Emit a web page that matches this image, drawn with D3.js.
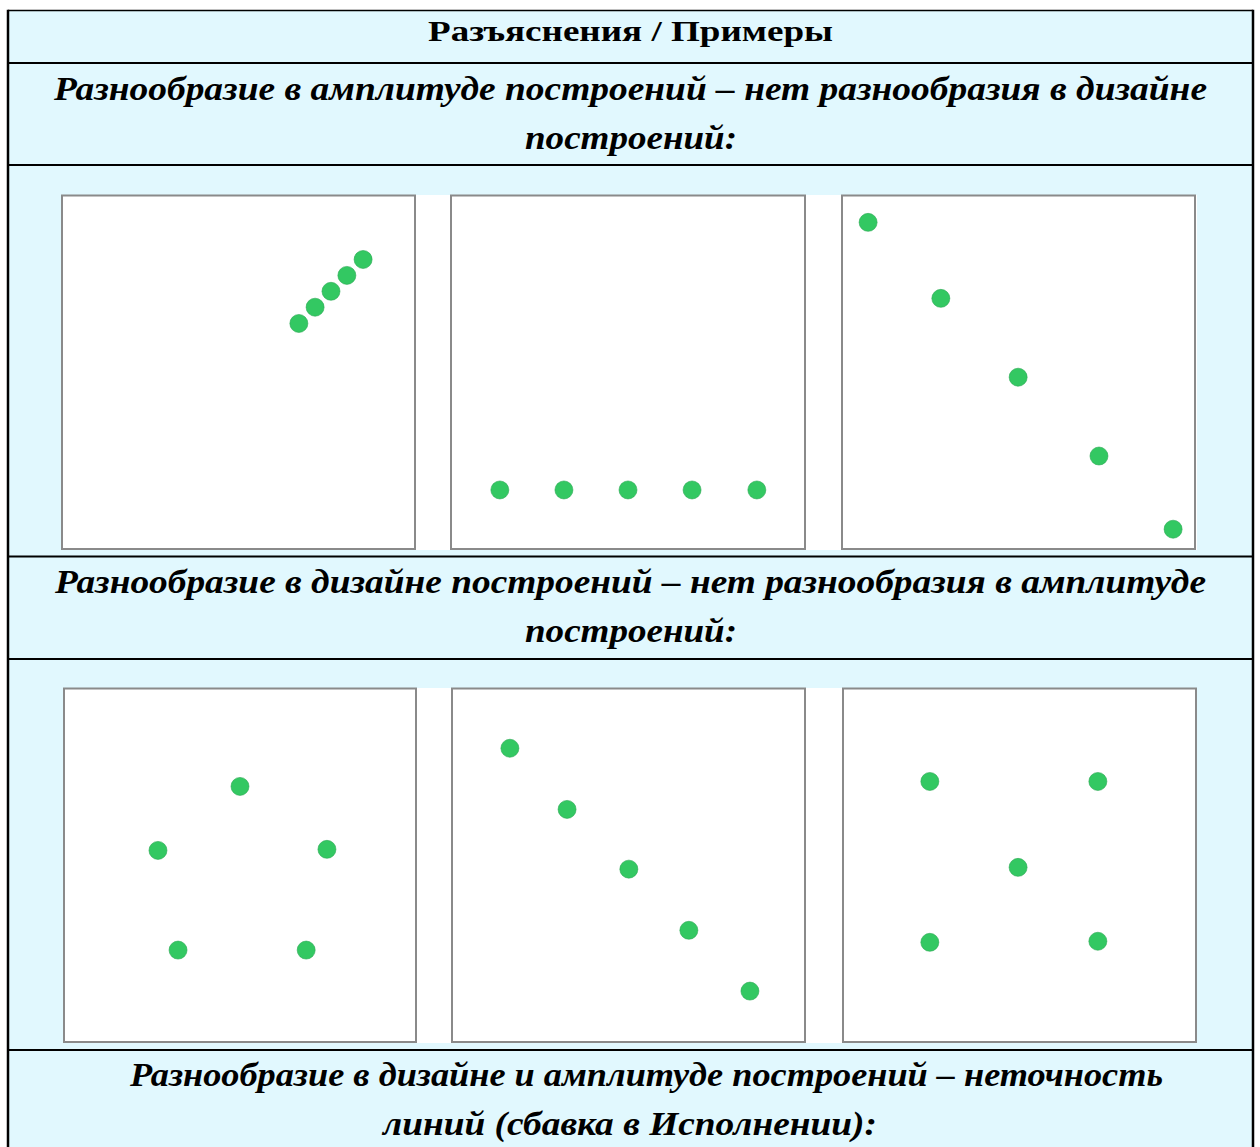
<!DOCTYPE html>
<html>
<head>
<meta charset="utf-8">
<script src="https://cdn.jsdelivr.net/npm/d3@7"></script>
<style>
  html, body { margin: 0; padding: 0; background: #ffffff; }
  svg { display: block; }
</style>
</head>
<body>
<svg id="chart" width="1260" height="1147"></svg>
<script>
// ---------- DATA ----------
const headerTitle = "Разъяснения / Примеры";
const sectionTitles = [
  ["Разнообразие в амплитуде построений – нет разнообразия в дизайне", "построений:"],
  ["Разнообразие в дизайне построений – нет разнообразия в амплитуде", "построений:"],
  ["Разнообразие в дизайне и амплитуде построений – неточность", "линий (сбавка в Исполнении):"]
];
// Dot positions per panel, in percent of the panel (x from left, y from bottom)
const row1Panel1X = [67.1, 71.7, 76.2, 80.7, 85.3];
const row1Panel1Y = [63.8, 68.4, 72.9, 77.4, 81.9];
const row1Panel2X = [13.8, 31.9, 50.0, 68.1, 86.4];
const row1Panel2Y = [16.7, 16.7, 16.7, 16.7, 16.7];
const row1Panel3X = [7.4, 28.0, 49.9, 72.8, 93.8];
const row1Panel3Y = [92.4, 70.9, 48.6, 26.3, 5.6];
const row2Panel1X = [50.0, 26.7, 74.7, 32.4, 68.8];
const row2Panel1Y = [72.3, 54.2, 54.5, 26.0, 26.0];
const row2Panel2X = [16.4, 32.6, 50.1, 67.1, 84.4];
const row2Panel2Y = [83.1, 65.8, 48.9, 31.6, 14.4];
const row2Panel3X = [24.6, 72.2, 49.6, 24.6, 72.2];
const row2Panel3Y = [73.7, 73.7, 49.4, 28.2, 28.5];

const panelData = [
  [[row1Panel1X, row1Panel1Y], [row1Panel2X, row1Panel2Y], [row1Panel3X, row1Panel3Y]],
  [[row2Panel1X, row2Panel1Y], [row2Panel2X, row2Panel2Y], [row2Panel3X, row2Panel3Y]]
];

// ---------- LAYOUT ----------
const svg = d3.select("#chart");
const bg = "#e1f8fe";
const tableLeft = 8, tableRight = 1253, tableTop = 10.5, tableBottom = 1147;
const rowLines = [63, 165, 556.5, 659, 1050];
const fontFamily = "'Liberation Serif', 'Times New Roman', serif";

svg.append("rect")
  .attr("x", tableLeft).attr("y", tableTop)
  .attr("width", tableRight - tableLeft).attr("height", tableBottom - tableTop + 5)
  .attr("fill", bg);

const imageBlocks = [
  { x: 61, y: 195, w: 1136, h: 355, panels: [
    { x: 62, y: 195.5, w: 353, h: 353.5 },
    { x: 451, y: 195.5, w: 354, h: 353.5 },
    { x: 842, y: 195.5, w: 353, h: 353.5 } ] },
  { x: 63, y: 688, w: 1134, h: 355, panels: [
    { x: 64, y: 688.5, w: 352, h: 353.5 },
    { x: 452, y: 688.5, w: 353, h: 353.5 },
    { x: 843, y: 688.5, w: 353, h: 353.5 } ] }
];

imageBlocks.forEach((blk, bi) => {
  svg.append("rect")
    .attr("x", blk.x).attr("y", blk.y)
    .attr("width", blk.w).attr("height", blk.h)
    .attr("fill", "#ffffff");
  blk.panels.forEach((p, pi) => {
    const g = svg.append("g");
    g.append("rect")
      .attr("x", p.x).attr("y", p.y)
      .attr("width", p.w).attr("height", p.h)
      .attr("fill", "#ffffff")
      .attr("stroke", "#8a8a8a")
      .attr("stroke-width", 2);
    const xs = d3.scaleLinear().domain([0, 100]).range([p.x, p.x + p.w]);
    const ys = d3.scaleLinear().domain([0, 100]).range([p.y + p.h, p.y]);
    const [xv, yv] = panelData[bi][pi];
    const pts = xv.map((v, i) => ({ x: v, y: yv[i] }));
    g.selectAll("circle").data(pts).join("circle")
      .attr("cx", d => xs(d.x))
      .attr("cy", d => ys(d.y))
      .attr("r", 9)
      .attr("fill", "#33c862")
      .attr("stroke", "#2aa852")
      .attr("stroke-width", 0.6);
  });
});

rowLines.forEach(y => {
  svg.append("line")
    .attr("x1", tableLeft).attr("x2", tableRight)
    .attr("y1", y).attr("y2", y)
    .attr("stroke", "#000").attr("stroke-width", 2);
});
svg.append("line").attr("x1", tableLeft).attr("x2", tableRight)
  .attr("y1", tableTop).attr("y2", tableTop)
  .attr("stroke", "#000").attr("stroke-width", 1.5);
svg.append("line").attr("x1", tableLeft).attr("x2", tableLeft)
  .attr("y1", tableTop - 0.75).attr("y2", tableBottom)
  .attr("stroke", "#000").attr("stroke-width", 2.5);
svg.append("line").attr("x1", tableRight).attr("x2", tableRight)
  .attr("y1", tableTop - 0.75).attr("y2", tableBottom)
  .attr("stroke", "#000").attr("stroke-width", 2.5);

// Texts (start x, text length) tuned to the reference
svg.append("text")
  .attr("x", 428).attr("y", 40.5)
  .attr("font-family", fontFamily)
  .attr("font-weight", "bold")
  .attr("font-size", 30)
  .attr("textLength", 405)
  .attr("lengthAdjust", "spacingAndGlyphs")
  .text(headerTitle);

const sectionLayout = [
  [{ x: 54, y: 100, len: 1153 }, { x: 525, y: 148.5, len: 212 }],
  [{ x: 55, y: 593, len: 1151 }, { x: 525, y: 642, len: 212 }],
  [{ x: 130, y: 1086, len: 1033 }, { x: 383, y: 1135, len: 494 }]
];
sectionTitles.forEach((lines, si) => {
  lines.forEach((t, li) => {
    const L = sectionLayout[si][li];
    svg.append("text")
      .attr("x", L.x).attr("y", L.y)
      .attr("font-family", fontFamily)
      .attr("font-weight", "bold")
      .attr("font-style", "italic")
      .attr("font-size", 34)
      .attr("textLength", L.len)
      .attr("lengthAdjust", "spacingAndGlyphs")
      .text(t);
  });
});
</script>
</body>
</html>
